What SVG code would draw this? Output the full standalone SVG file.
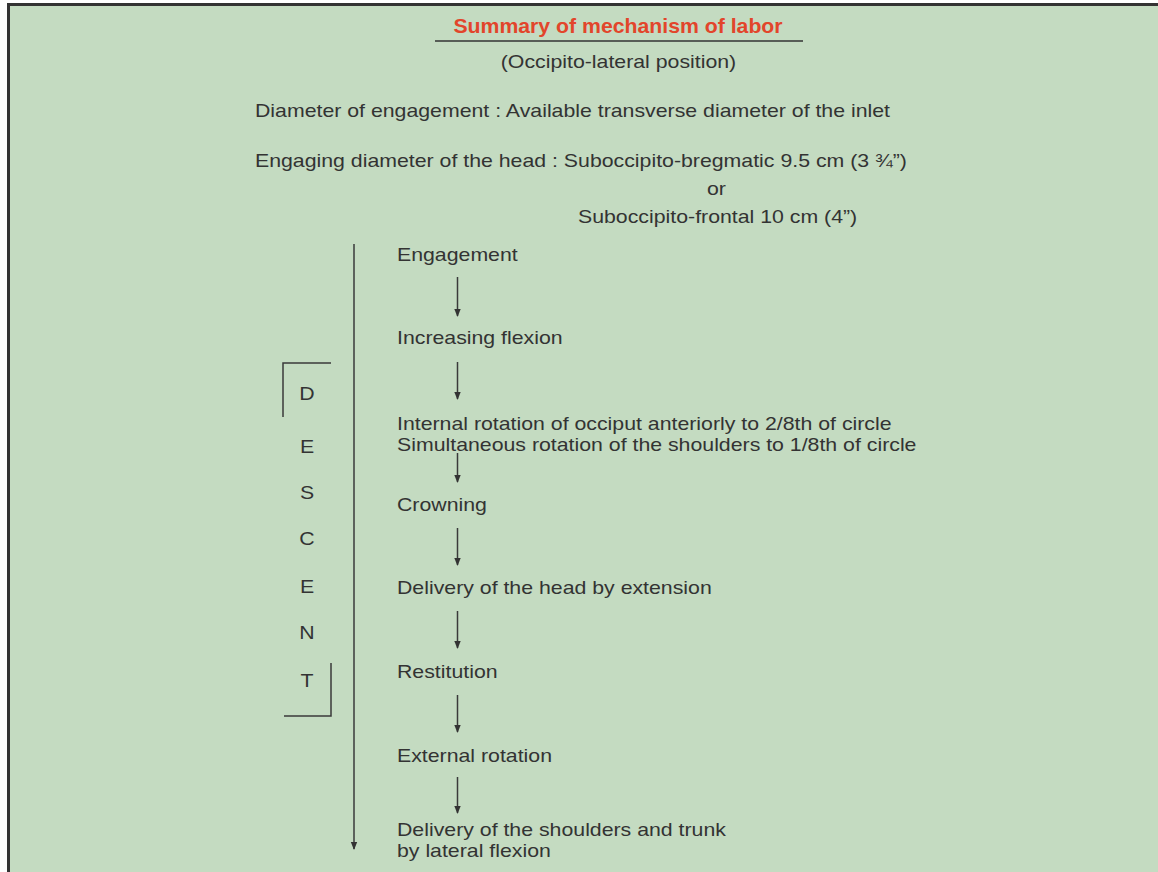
<svg xmlns="http://www.w3.org/2000/svg" width="1158" height="872" viewBox="0 0 1158 872">
<defs>
<style>
.t{font-family:"Liberation Sans",Arial,Helvetica,sans-serif;font-size:18.6px;fill:#333;transform-box:fill-box;transform-origin:0 0;transform:scaleX(1.145)}
.c{text-anchor:middle;transform-origin:50% 0}
.title{font-weight:bold;font-size:19.5px;fill:#e2452b;transform:scaleX(1.09)}
.ln{stroke:#3a3a3a;stroke-width:1.5;fill:none}
.ar{stroke:#3a3a3a;stroke-width:1.5;fill:none;marker-end:url(#ah)}
</style>
<marker id="ah" viewBox="0 0 8 8" refX="7" refY="4" markerWidth="8" markerHeight="8" markerUnits="userSpaceOnUse" orient="auto">
<path d="M0,0.8 L8,4 L0,7.2 Z" fill="#333"/>
</marker>
</defs>
<rect x="0" y="0" width="1158" height="872" fill="#ffffff"/>
<rect x="8" y="4" width="1150" height="868" fill="#c4dbc1"/>
<line x1="7" y1="4.5" x2="1158" y2="4.5" stroke="#333" stroke-width="3"/>
<line x1="8.5" y1="3" x2="8.5" y2="872" stroke="#333" stroke-width="3"/>

<g id="header">
<text class="t c title" x="618" y="33">Summary of mechanism of labor</text>
<line x1="435" y1="41" x2="803" y2="41" stroke="#333" stroke-width="1.5"/>
<text class="t c" x="618.5" y="68">(Occipito-lateral position)</text>
</g>
<g id="diameters">
<text class="t" x="255" y="117">Diameter of engagement : Available transverse diameter of the inlet</text>
<text class="t" x="255" y="167">Engaging diameter of the head : Suboccipito-bregmatic 9.5 cm (3 ¾”)</text>
<text class="t" x="707" y="195">or</text>
<text class="t" x="578" y="223">Suboccipito-frontal 10 cm (4”)</text>
</g>

<g id="descent">
<path class="ln" d="M331,363 H283 V417"/>
<path class="ln" d="M331,663 V716 H284"/>
<text class="t c" x="307" y="400">D</text>
<text class="t c" x="307" y="453">E</text>
<text class="t c" x="307" y="499">S</text>
<text class="t c" x="307" y="545">C</text>
<text class="t c" x="307" y="593">E</text>
<text class="t c" x="307" y="639">N</text>
<text class="t c" x="307" y="687">T</text>
</g>

<g id="step-engagement"><text class="t" x="397" y="261">Engagement</text></g>
<g id="step-flexion"><text class="t" x="397" y="344.5">Increasing flexion</text></g>
<g id="step-internal-rotation">
<text class="t" x="397" y="430">Internal rotation of occiput anteriorly to 2/8th of circle</text>
<text class="t" x="397" y="451">Simultaneous rotation of the shoulders to 1/8th of circle</text>
</g>
<g id="step-crowning"><text class="t" x="397" y="511">Crowning</text></g>
<g id="step-extension"><text class="t" x="397" y="594">Delivery of the head by extension</text></g>
<g id="step-restitution"><text class="t" x="397" y="678">Restitution</text></g>
<g id="step-external-rotation"><text class="t" x="397" y="762">External rotation</text></g>
<g id="step-shoulders">
<text class="t" x="397" y="836">Delivery of the shoulders and trunk</text>
<text class="t" x="397" y="857">by lateral flexion</text>
</g>

<g id="connectors">
<line class="ar" x1="354" y1="244" x2="354" y2="849"/>
<line class="ar" x1="457.5" y1="277" x2="457.5" y2="316"/>
<line class="ar" x1="457.5" y1="362" x2="457.5" y2="399"/>
<line class="ar" x1="457.5" y1="453" x2="457.5" y2="482"/>
<line class="ar" x1="457.5" y1="528" x2="457.5" y2="565"/>
<line class="ar" x1="457.5" y1="611" x2="457.5" y2="648"/>
<line class="ar" x1="457.5" y1="695" x2="457.5" y2="732"/>
<line class="ar" x1="457.5" y1="777" x2="457.5" y2="813"/>
</g>
</svg>
